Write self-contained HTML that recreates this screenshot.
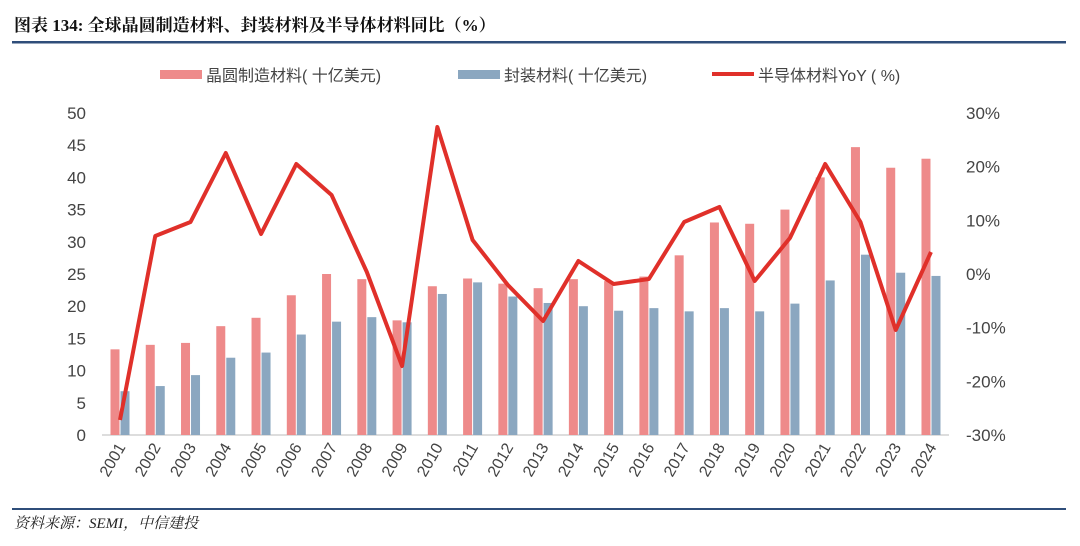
<!DOCTYPE html>
<html><head><meta charset="utf-8"><style>
body{margin:0;background:#fff;width:1080px;height:541px;overflow:hidden}
text{font-family:"Liberation Sans","Noto Sans CJK SC",sans-serif}
text.serif{font-family:"Liberation Serif","Noto Serif CJK SC",serif}
</style></head><body>
<svg id="s" width="1080" height="541" xmlns="http://www.w3.org/2000/svg">
<text class="serif" x="14" y="31" font-size="17" font-weight="bold" fill="#111">图表 134:  全球晶圆制造材料、封装材料及半导体材料同比（%）</text>
<rect x="12" y="41" width="1054" height="2.5" fill="#2F4E7A"/>
<rect x="160" y="70" width="42" height="9" fill="#EE8A8A"/>
<text x="206" y="81" font-size="16" fill="#444">晶圆制造材料( 十亿美元)</text>
<rect x="458" y="70" width="42" height="9" fill="#8BA7C0"/>
<text x="504" y="81" font-size="16" fill="#444">封装材料( 十亿美元)</text>
<rect x="712" y="72" width="42" height="4" fill="#E0302A"/>
<text x="758" y="81" font-size="16" fill="#444">半导体材料YoY ( %)</text>
<g id="lab" font-size="17" fill="#444"></g>
<line x1="102" y1="435" x2="949" y2="435" stroke="#bbb" stroke-width="1"/>
<g id="bars"></g>
<polyline id="ln" fill="none" stroke="#E0302A" stroke-width="4" stroke-linejoin="round"/>
<g id="xl" font-size="16" fill="#444"></g>
<rect x="12" y="508" width="1054" height="2" fill="#2F4E7A"/>
<text class="serif" x="14" y="528" font-size="15" font-style="italic" fill="#222">资料来源：SEMI，中信建投</text>
</svg>
<script>
var ns="http://www.w3.org/2000/svg";
function el(p,t,a,txt){var e=document.createElementNS(ns,t);for(var k in a)e.setAttribute(k,a[k]);if(txt)e.textContent=txt;document.getElementById(p).appendChild(e);return e;}
[50,45,40,35,30,25,20,15,10,5,0].forEach(function(v){el('lab','text',{x:86,y:435-v*6.44+6,'text-anchor':'end'},String(v));});
[30,20,10,0,-10,-20,-30].forEach(function(p){el('lab','text',{x:966,y:274-p*5.367+6},p+'%');});
var w=[13.3,14,14.3,16.9,18.2,21.7,25,24.2,17.8,23.1,24.3,23.5,22.8,24.2,23.9,24.6,27.9,33,32.8,35,40,44.7,41.5,42.9];
var b=[6.8,7.6,9.3,12,12.8,15.6,17.6,18.3,17.5,21.9,23.7,21.5,20.5,20,19.3,19.7,19.2,19.7,19.2,20.4,24,28,25.2,24.7];
var ly=[420,236,222,153,234,164,195,272,366,127,240,285,321,261,284,279,222,207,281,238,164,222,330,252];
var pts=[];
for(var i=0;i<24;i++){var c=120+i*35.26;
el('bars','rect',{x:c-9.5,y:435-w[i]*6.44,width:9,height:w[i]*6.44,fill:'#EE8A8A'});
el('bars','rect',{x:c+0.5,y:435-b[i]*6.44,width:9,height:b[i]*6.44,fill:'#8BA7C0'});
pts.push(c+','+ly[i]);
el('xl','text',{x:0,y:0,transform:'translate('+(c+6)+',447) rotate(-60)','text-anchor':'end'},String(2001+i));}
document.getElementById('ln').setAttribute('points',pts.join(' '));
</script>
</body></html>
